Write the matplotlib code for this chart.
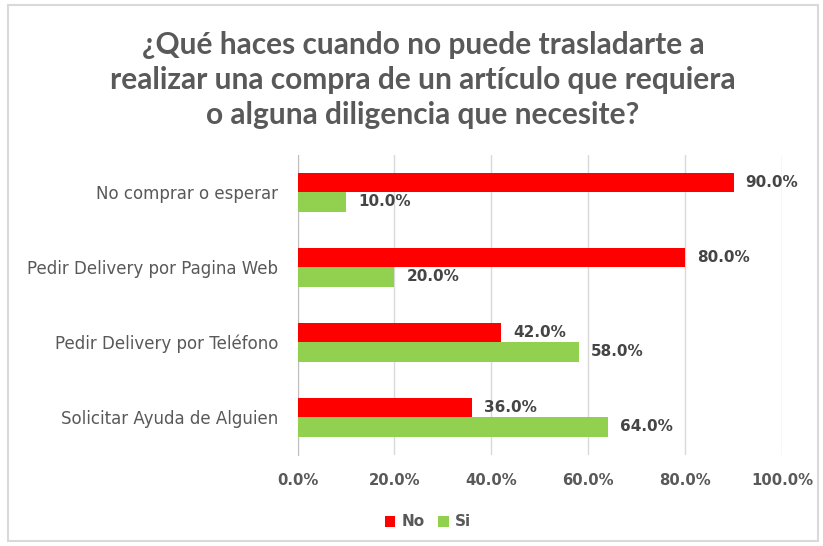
import matplotlib.pyplot as plt
import numpy as np
from matplotlib.patches import Rectangle

categories = ["No comprar o esperar", "Pedir Delivery por Pagina Web",
              "Pedir Delivery por Teléfono", "Solicitar Ayuda de Alguien"]
no_vals = [0.90, 0.80, 0.42, 0.36]
si_vals = [0.10, 0.20, 0.58, 0.64]
xticks = [0.0, 0.2, 0.4, 0.6, 0.8, 1.0]

title = ("¿Qué haces cuando no puede trasladarte a\n"
         "realizar una compra de un artículo que requiera\n"
         "o alguna diligencia que necesite?")

RED = "#FF0000"
GREEN = "#92D050"
GRAY = "#595959"
DARK = "#454545"

fig = plt.figure(figsize=(8.23, 5.46), dpi=100)
fig.patches.append(Rectangle((8 / 823, 5 / 546), 810 / 823, 536 / 546,
                             transform=fig.transFigure, fill=False,
                             edgecolor="#d9d9d9", linewidth=1.5))

ax = fig.add_axes([297.5 / 823, 1 - 454.5 / 546, (782 - 297.5) / 823, 300 / 546])

y = np.arange(len(categories))
h = 0.26
ax.barh(y - h / 2, no_vals, height=h, color=RED, label="No", zorder=3)
ax.barh(y + h / 2, si_vals, height=h, color=GREEN, label="Si", zorder=3)

for yi, v in zip(y, no_vals):
    ax.text(v + 0.025, yi - h / 2, f"{v * 100:.1f}%", va="center", ha="left",
            fontsize=11, fontweight="bold", color=DARK, family="DejaVu Sans")
for yi, v in zip(y, si_vals):
    ax.text(v + 0.025, yi + h / 2, f"{v * 100:.1f}%", va="center", ha="left",
            fontsize=11, fontweight="bold", color=DARK, family="DejaVu Sans")

ax.set_ylim(len(categories) - 0.5, -0.5)
ax.set_xlim(0, 1.0)
ax.set_yticks(y)
ax.set_yticklabels(categories, fontsize=12, color=GRAY, family="DejaVu Sans")
ax.set_xticks(xticks)
ax.set_xticklabels([f"{t * 100:.1f}%" for t in xticks], fontsize=10.7,
                   fontweight="bold", color=GRAY, family="DejaVu Sans")
ax.tick_params(axis="y", length=0, pad=14)
ax.tick_params(axis="x", length=0, pad=13)
ax.grid(axis="x", color="#d9d9d9", linewidth=1, zorder=0)
for s in ["top", "right", "bottom"]:
    ax.spines[s].set_visible(False)
ax.spines["left"].set_color("#bfbfbf")

fig.text(423 / 823, 1 - 80 / 546, title, ha="center", va="center", fontsize=21.5,
         fontweight="bold", color=GRAY, family="Lato", linespacing=1.3)

fig.legend(loc="center", bbox_to_anchor=(428 / 823, 1 - 522 / 546), ncol=2,
           frameon=False,
           prop={"family": "DejaVu Sans", "size": 11, "weight": "bold"},
           labelcolor=GRAY, handlelength=0.7, handleheight=0.7,
           handletextpad=0.4, columnspacing=0.9)

fig.savefig("out.png", dpi=100)
